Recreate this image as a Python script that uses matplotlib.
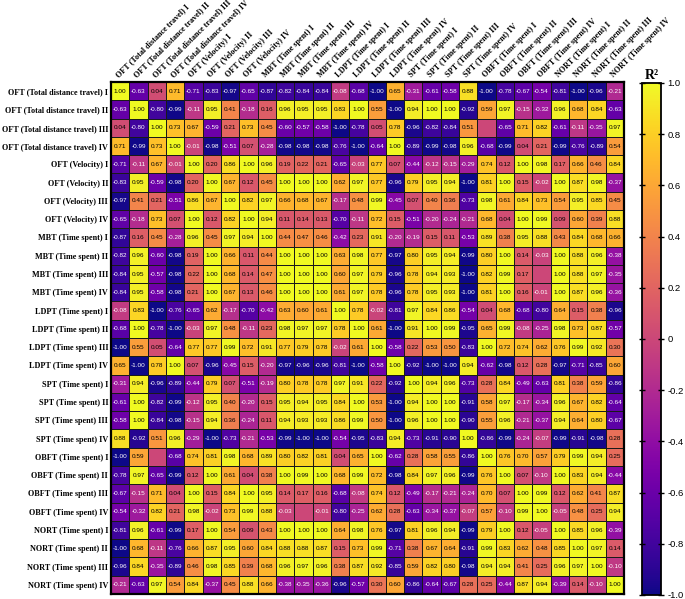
import numpy as np
import matplotlib
matplotlib.use('Agg')
import matplotlib.pyplot as plt

labels = [
    "OFT (Total distance travel) I", "OFT (Total distance travel) II",
    "OFT (Total distance travel) III", "OFT (Total distance travel) IV",
    "OFT (Velocity) I", "OFT (Velocity) II", "OFT (Velocity) III", "OFT (Velocity) IV",
    "MBT (Time spent) I", "MBT (Time spent) II", "MBT (Time spent) III", "MBT (Time spent) IV",
    "LDPT (Time spent) I", "LDPT (Time spent) II", "LDPT (Time spent) III", "LDPT (Time spent) IV",
    "SPT (Time spent) I", "SPT (Time spent) II", "SPT (Time spent) III", "SPT (Time spent) IV",
    "OBFT (Time spent) I", "OBFT (Time spent) II", "OBFT (Time spent) III", "OBFT (Time spent) IV",
    "NORT (Time spent) I", "NORT (Time spent) II", "NORT (Time spent) III", "NORT (Time spent) IV",
]

# Upper triangle of the symmetric matrix, each row starting at the diagonal
upper_rows = [
    [1.00, -0.63, 0.04, 0.71, -0.71, -0.83, -0.97, -0.65, -0.87, -0.82, -0.84, -0.84, -0.08, -0.68, -1.00, 0.65, -0.31, -0.61, -0.58, 0.88, -1.00, -0.78, -0.67, -0.54, -0.81, -1.00, -0.96, -0.21],
    [1.00, -0.80, -0.99, -0.11, 0.95, 0.41, -0.18, 0.16, 0.96, 0.95, 0.95, 0.83, 1.00, 0.55, -1.00, 0.94, 1.00, 1.00, -0.92, 0.59, 0.97, -0.15, -0.32, 0.96, 0.68, 0.84, -0.63],
    [1.00, 0.73, 0.67, -0.59, 0.21, 0.73, 0.45, -0.60, -0.57, -0.58, -1.00, -0.78, 0.05, 0.78, -0.96, -0.82, -0.84, 0.51, 0.00, -0.65, 0.71, 0.82, -0.61, -0.11, -0.35, 0.97],
    [1.00, -0.01, -0.98, -0.51, 0.07, -0.28, -0.98, -0.98, -0.98, -0.76, -1.00, -0.64, 1.00, -0.89, -0.99, -0.98, 0.96, -0.68, -0.99, 0.04, 0.21, -0.99, -0.76, -0.89, 0.54],
    [1.00, 0.20, 0.86, 1.00, 0.96, 0.19, 0.22, 0.21, -0.65, -0.03, 0.77, 0.07, -0.44, -0.12, -0.15, -0.29, 0.74, 0.12, 1.00, 0.98, 0.17, 0.66, 0.46, 0.84],
    [1.00, 0.67, 0.12, 0.45, 1.00, 1.00, 1.00, 0.62, 0.97, 0.77, -0.96, 0.79, 0.95, 0.94, -1.00, 0.81, 1.00, 0.15, -0.02, 1.00, 0.87, 0.98, -0.37],
    [1.00, 0.82, 0.97, 0.66, 0.68, 0.67, -0.17, 0.48, 0.99, -0.45, 0.07, 0.40, 0.36, -0.73, 0.98, 0.61, 0.84, 0.73, 0.54, 0.95, 0.85, 0.45],
    [1.00, 0.94, 0.11, 0.14, 0.13, -0.70, -0.11, 0.72, 0.15, -0.51, -0.20, -0.24, -0.21, 0.68, 0.04, 1.00, 0.99, 0.09, 0.60, 0.39, 0.88],
    [1.00, 0.44, 0.47, 0.46, -0.42, 0.23, 0.91, -0.20, -0.19, 0.15, 0.11, -0.53, 0.89, 0.38, 0.95, 0.88, 0.43, 0.84, 0.68, 0.66],
    [1.00, 1.00, 1.00, 0.63, 0.98, 0.77, -0.97, 0.80, 0.95, 0.94, -0.99, 0.80, 1.00, 0.14, -0.03, 1.00, 0.88, 0.96, -0.38],
    [1.00, 1.00, 0.60, 0.97, 0.79, -0.96, 0.78, 0.94, 0.93, -1.00, 0.82, 0.99, 0.17, 0.00, 1.00, 0.88, 0.97, -0.35],
    [1.00, 0.61, 0.97, 0.78, -0.96, 0.78, 0.95, 0.93, -1.00, 0.81, 1.00, 0.16, -0.01, 1.00, 0.87, 0.96, -0.36],
    [1.00, 0.78, -0.02, -0.81, 0.97, 0.84, 0.86, -0.54, 0.04, 0.68, -0.68, -0.80, 0.64, 0.15, 0.38, -0.96],
    [1.00, 0.61, -1.00, 0.91, 1.00, 0.99, -0.95, 0.65, 0.99, -0.08, -0.25, 0.98, 0.73, 0.87, -0.57],
    [1.00, -0.58, 0.22, 0.53, 0.50, -0.83, 1.00, 0.72, 0.74, 0.62, 0.76, 0.99, 0.92, 0.30],
    [1.00, -0.92, -1.00, -1.00, 0.94, -0.62, -0.98, 0.12, 0.28, -0.97, -0.71, -0.85, 0.60],
    [1.00, 0.94, 0.96, -0.73, 0.28, 0.84, -0.49, -0.63, 0.81, 0.38, 0.59, -0.86],
    [1.00, 1.00, -0.91, 0.58, 0.97, -0.17, -0.34, 0.96, 0.67, 0.82, -0.64],
    [1.00, -0.90, 0.55, 0.96, -0.21, -0.37, 0.94, 0.64, 0.80, -0.67],
    [1.00, -0.86, -0.99, -0.24, -0.07, -0.99, -0.91, -0.98, 0.28],
    [1.00, 0.76, 0.70, 0.57, 0.79, 0.99, 0.94, 0.25],
    [1.00, 0.07, -0.10, 1.00, 0.83, 0.94, -0.44],
    [1.00, 0.99, 0.12, 0.62, 0.41, 0.87],
    [1.00, -0.05, 0.48, 0.25, 0.94],
    [1.00, 0.85, 0.96, -0.39],
    [1.00, 0.97, 0.14],
    [1.00, -0.10],
    [1.00],
]

# cells whose value label is not printed in the reference
hidden_cells = [(2, 20), (10, 23)]

cbar_ticks = [1.0, 0.8, 0.6, 0.4, 0.2, 0.0, -0.2, -0.4, -0.6, -0.8, -1.0]
cbar_ticklabels = ["1.0", "0.8", "0.6", "0.4", "0.2", "0", "-0.2", "-0.4", "-0.6", "-0.8", "-1.0"]

n = len(labels)
M = np.zeros((n, n))
for i, row in enumerate(upper_rows):
    for k, v in enumerate(row):
        j = i + k
        M[i, j] = v
        M[j, i] = v

hidden = set(hidden_cells) | {(j, i) for i, j in hidden_cells}

W, H = 685, 599
fig = plt.figure(figsize=(W / 100, H / 100), dpi=100)
ax = fig.add_axes([111 / W, 1 - 594 / H, 513 / W, 512 / H])

mesh = ax.pcolormesh(M, cmap='plasma', vmin=-1, vmax=1,
                     edgecolors='#1a1a1a', linewidth=0.45)
ax.set_xlim(0, n)
ax.set_ylim(n, 0)

for i in range(n):
    for j in range(n):
        if (i, j) in hidden:
            continue
        v = M[i, j]
        ax.text(j + 0.5, i + 0.5, f"{v:.2f}", ha='center', va='center',
                fontsize=4.6, family='Liberation Sans',
                color='white' if v < 0 else 'black')

lab_font = dict(family='Liberation Serif', weight='bold', size=5.9)
ax.set_yticks(np.arange(n) + 0.5)
ax.set_yticklabels(labels, **lab_font)
ax.xaxis.tick_top()
ax.set_xticks(np.arange(n) + 0.5)
ax.set_xticklabels(labels, rotation=45, ha='left', va='bottom',
                   rotation_mode='anchor', **lab_font)
ax.tick_params(length=0, pad=2)
for s in ax.spines.values():
    s.set_linewidth(1.6)
    s.set_color('black')

cax = fig.add_axes([642 / W, 1 - 595 / H, 19 / W, 512 / H])
cb = fig.colorbar(mesh, cax=cax)
cb.set_ticks(cbar_ticks)
cb.set_ticklabels(cbar_ticklabels)
cb.outline.set_linewidth(1.3)
cax.tick_params(direction='inout', length=5, width=1, left=True, right=True,
                labelsize=6.8, pad=2)
for t in cax.get_yticklabels():
    t.set_family('Liberation Sans')
cax.set_title("R²", family='Liberation Serif', weight='bold', fontsize=10, pad=3)

fig.savefig('out.png', dpi=100)
